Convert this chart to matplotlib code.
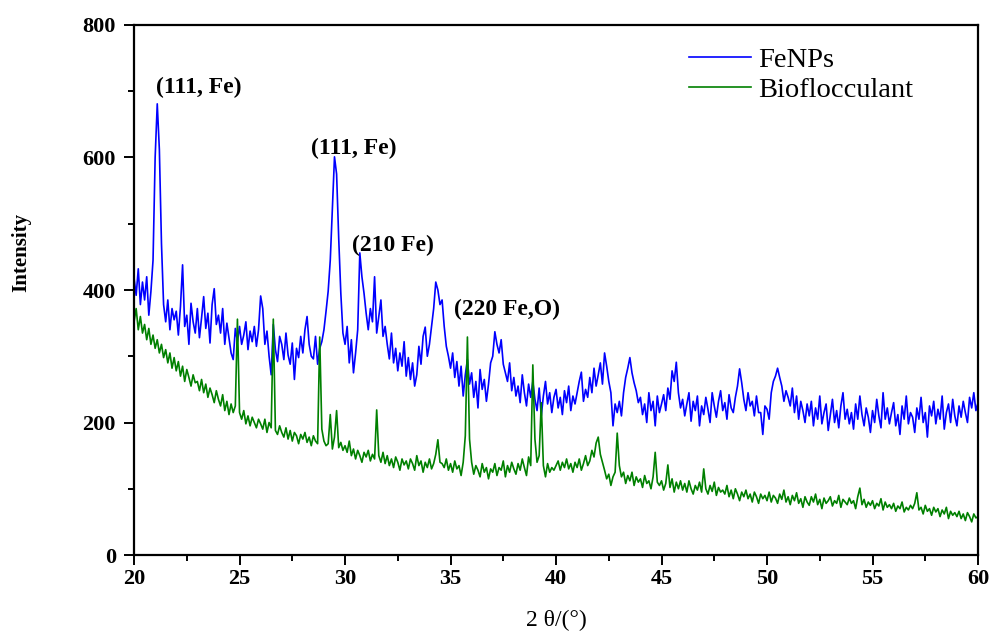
import numpy as np
import matplotlib
matplotlib.use("Agg")
import matplotlib.pyplot as plt
from matplotlib.ticker import MultipleLocator

# 2-theta grid, 0.1 deg step from 20 to 60
two_theta = np.round(np.arange(20.0, 60.05, 0.1), 1)

# FeNPs intensity, one row per degree
fenps = [
    418, 392, 432, 378, 412, 385, 420, 362, 398, 445,   # 20
    600, 681, 612, 470, 378, 352, 385, 340, 372, 355,   # 21
    368, 332, 375, 438, 345, 362, 318, 380, 352, 335,   # 22
    372, 328, 358, 390, 342, 365, 320, 378, 402, 348,   # 23
    362, 335, 372, 318, 350, 328, 305, 295, 342, 322,   # 24
    345, 318, 332, 352, 310, 338, 322, 345, 315, 340,   # 25
    391, 372, 318, 338, 300, 272, 348, 310, 292, 330,   # 26
    318, 295, 335, 302, 288, 320, 265, 312, 298, 330,   # 27
    305, 340, 360, 318, 300, 296, 330, 288, 312, 322,   # 28
    340, 368, 398, 445, 525, 601, 575, 478, 395, 335,   # 29
    318, 345, 290, 325, 275, 305, 340, 456, 420, 395,   # 30
    365, 340, 372, 352, 420, 335, 360, 385, 330, 345,   # 31
    318, 296, 335, 290, 312, 278, 305, 285, 322, 270,   # 32
    298, 265, 290, 255, 272, 315, 288, 330, 344, 300,   # 33
    318, 345, 372, 412, 400, 378, 385, 345, 315, 300,   # 34
    282, 305, 268, 292, 255, 285, 240, 272, 295, 258,   # 35
    275, 238, 262, 222, 280, 250, 265, 232, 258, 290,   # 36
    300, 337, 318, 305, 325, 288, 275, 262, 290, 248,   # 37
    268, 240, 255, 230, 272, 245, 225, 258, 238, 262,   # 38
    235, 218, 252, 210, 240, 262, 228, 245, 215, 238,   # 39
    250, 222, 238, 212, 248, 230, 255, 218, 240, 228,   # 40
    245, 262, 276, 232, 250, 238, 268, 245, 282, 255,   # 41
    272, 290, 258, 305, 285, 262, 245, 195, 228, 215,   # 42
    232, 210, 245, 268, 282, 298, 275, 260, 248, 230,   # 43
    238, 212, 228, 200, 245, 218, 232, 195, 240, 215,   # 44
    228, 242, 218, 252, 235, 278, 262, 291, 245, 222,   # 45
    235, 210, 228, 245, 202, 232, 218, 240, 195, 225,   # 46
    212, 238, 220, 200, 245, 225, 208, 232, 248, 218,   # 47
    230, 205, 242, 222, 215, 238, 255, 281, 260, 235,   # 48
    218, 245, 225, 232, 210, 240, 215, 215, 182, 225,   # 49
    220, 205, 245, 262, 270, 282, 268, 255, 232, 248,   # 50
    238, 225, 252, 215, 240, 205, 232, 218, 200, 228,   # 51
    210, 232, 195, 222, 205, 240, 198, 215, 228, 188,   # 52
    212, 235, 200, 218, 192, 225, 245, 205, 220, 198,   # 53
    215, 190, 228, 205, 240, 212, 195, 222, 208, 185,   # 54
    218, 200, 235, 210, 192, 245, 205, 222, 198, 215,   # 55
    230, 195, 212, 182, 225, 205, 240, 198, 215, 208,   # 56
    185, 222, 205, 238, 200, 215, 178, 225, 210, 232,   # 57
    198, 220, 205, 240, 190, 215, 228, 200, 235, 210,   # 58
    195, 225, 208, 232, 215, 200, 238, 222, 245, 218,   # 59
    230,
]

# Bioflocculant intensity
bioflocculant = [
    352, 372, 340, 360, 335, 348, 325, 342, 318, 332,   # 20
    312, 325, 305, 318, 298, 310, 290, 305, 282, 298,   # 21
    278, 292, 270, 285, 262, 280, 268, 255, 272, 260,   # 22
    262, 248, 265, 245, 258, 238, 252, 242, 230, 248,   # 23
    235, 225, 242, 218, 232, 212, 228, 215, 225, 356,   # 24
    215, 205, 218, 198, 210, 195, 208, 200, 192, 205,   # 25
    198, 190, 205, 185, 200, 192, 356, 188, 182, 195,   # 26
    185, 178, 192, 175, 188, 172, 185, 180, 168, 182,   # 27
    175, 185, 170, 178, 165, 180, 172, 168, 329, 190,   # 28
    172, 165, 168, 212, 160, 178, 218, 162, 170, 158,   # 29
    165, 155, 172, 150, 160, 145, 158, 150, 140, 155,   # 30
    148, 158, 142, 152, 145, 219, 150, 140, 155, 138,   # 31
    150, 135, 145, 132, 148, 140, 128, 145, 136, 142,   # 32
    130, 145, 138, 128, 150, 135, 142, 125, 140, 132,   # 33
    145, 130, 138, 152, 174, 140, 138, 132, 145, 128,   # 34
    138, 125, 142, 130, 135, 120, 140, 180, 329, 175,   # 35
    140, 122, 135, 128, 118, 138, 125, 132, 115, 130,   # 36
    125, 138, 120, 132, 128, 142, 118, 135, 125, 140,   # 37
    130, 122, 138, 128, 145, 132, 120, 148, 135, 287,   # 38
    175, 140, 150, 230, 135, 118, 138, 125, 132, 128,   # 39
    135, 142, 128, 140, 132, 145, 130, 138, 125, 140,   # 40
    132, 145, 128, 138, 150, 135, 142, 158, 148, 169,   # 41
    178, 152, 140, 128, 115, 122, 105, 118, 125, 184,   # 42
    135, 118, 125, 108, 120, 112, 125, 105, 118, 110,   # 43
    115, 102, 120, 108, 112, 100, 118, 155, 110, 105,   # 44
    112, 98, 108, 136, 102, 115, 95, 110, 100, 112,     # 45
    98, 108, 95, 112, 100, 92, 105, 98, 110, 95,        # 46
    130, 100, 92, 105, 96, 110, 90, 102, 95, 98,        # 47
    92, 105, 88, 98, 85, 100, 92, 82, 95, 88,           # 48
    98, 85, 92, 80, 95, 88, 78, 92, 85, 90,             # 49
    82, 95, 80, 90, 86, 78, 92, 84, 98, 80,             # 50
    88, 76, 90, 82, 94, 78, 85, 72, 88, 80,             # 51
    75, 88, 80, 92, 76, 84, 70, 86, 78, 82,             # 52
    88, 74, 82, 78, 90, 72, 84, 80, 76, 86,             # 53
    78, 82, 70, 88, 101, 76, 84, 72, 80, 75,            # 54
    82, 70, 78, 74, 85, 68, 80, 72, 76, 70,             # 55
    78, 66, 74, 70, 80, 65, 72, 68, 75, 70,             # 56
    78, 94, 68, 72, 62, 75, 66, 70, 60, 72,             # 57
    65, 70, 58, 68, 62, 72, 55, 66, 60, 64,             # 58
    58, 66, 55, 62, 52, 64, 58, 50, 62, 56,             # 59
    58,
]

# peak labels: text, x, y (centre of the label)
peak_labels = ["(111, Fe)", "(111, Fe)", "(210 Fe)", "(220 Fe,O)"]
peak_x = [23.08, 30.43, 32.27, 37.68]
peak_y = [705, 614, 468, 371]

plt.rcParams['font.family'] = ['Liberation Serif', 'DejaVu Serif']

fig = plt.figure(figsize=(9.9, 6.31), dpi=100)
ax = fig.add_axes([0.1354, 0.1204, 0.8525, 0.84])

ax.plot(two_theta, fenps, color='#0000ff', lw=1.2, label='FeNPs')
ax.plot(two_theta, bioflocculant, color='#008000', lw=1.2, label='Bioflocculant')

for txt, px, py in zip(peak_labels, peak_x, peak_y):
    ax.text(px, py, txt, ha='center', va='center', fontsize=17, fontweight='bold')

ax.set_xlim(20, 60)
ax.set_ylim(0, 800)
ax.xaxis.set_major_locator(MultipleLocator(5))
ax.xaxis.set_minor_locator(MultipleLocator(2.5))
ax.yaxis.set_major_locator(MultipleLocator(200))
ax.yaxis.set_minor_locator(MultipleLocator(100))

ax.tick_params(which='both', direction='out', top=False, right=False, width=1.4)
ax.tick_params(which='major', length=7, labelsize=16)
ax.tick_params(axis='x', which='major', pad=3)
ax.tick_params(axis='y', which='major', pad=6)
ax.tick_params(which='minor', length=4.3)
for lbl in ax.get_xticklabels() + ax.get_yticklabels():
    lbl.set_fontweight('bold')
for sp in ax.spines.values():
    sp.set_linewidth(1.6)

ax.set_xlabel('2 θ/(°)', fontsize=17)
ax.xaxis.set_label_coords(0.5, -0.103)
ax.set_ylabel('Intensity', fontsize=15, fontweight='bold')
ax.yaxis.set_label_coords(-0.122, 0.57)

ax.legend(loc='upper left', bbox_to_anchor=(0.627, 1.007), frameon=False,
          fontsize=20.5, handlelength=2.2, handletextpad=0.22, labelspacing=0.15)

fig.savefig('out.png', dpi=100)
